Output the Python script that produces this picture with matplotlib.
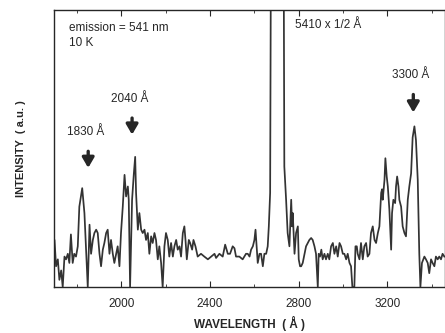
import matplotlib
matplotlib.use('Agg')
import matplotlib.pyplot as plt
from matplotlib.ticker import MultipleLocator

# excitation spectrum (wavelength in A, intensity in a.u.)
wl_left = [1695, 1698, 1705, 1713, 1720, 1728, 1735, 1743, 1750, 1758, 1765, 1772, 1780, 1787,
           1795, 1803, 1810, 1823, 1833, 1841, 1848, 1856, 1863, 1871, 1878, 1886, 1893, 1901,
           1908, 1916, 1923, 1931, 1938, 1946, 1953, 1961, 1968, 1976, 1983, 1991, 1998, 2006,
           2014, 2021, 2029, 2033, 2039, 2048, 2056, 2062, 2066, 2074, 2081, 2089, 2096, 2104,
           2111, 2119, 2126, 2134, 2141, 2149, 2156, 2164, 2171, 2179, 2186, 2194, 2201, 2209,
           2216, 2224, 2232, 2239, 2247, 2254, 2262, 2269, 2277, 2284, 2289, 2295, 2304, 2310,
           2319, 2325, 2334, 2344, 2359, 2374, 2390, 2405, 2420, 2427, 2442, 2457, 2468, 2480,
           2490, 2502, 2510, 2517, 2532, 2547, 2562, 2570, 2578, 2585, 2593, 2600, 2605, 2611,
           2615, 2623, 2630, 2638, 2645, 2653, 2660, 2665, 2671]
int_left = [17, 17, 7.5, 10, 2.6, 6, 0, 11, 10, 12, 8.7, 19, 8.7, 12,
            11, 14.7, 29, 35.7, 26.7, 12, 0, 22.5, 12, 17, 19.5, 20.7, 19.5, 12,
            7.5, 13.5, 15.9, 19.5, 20.7, 12, 17, 12, 8.7, 12, 14.7, 7.5, 19.5, 29,
            40.5, 32.7, 36.3, 31.5, 0, 31.5, 41, 47, 34, 20.7, 26.7, 20.7, 19.5, 20.7,
            17, 19.5, 12, 18.3, 15.9, 19.5, 17, 10, 14.7, 8.7, 0, 14.7, 19.5, 17,
            11, 15.9, 11, 14.7, 17, 13.5, 14.7, 11, 19.5, 21.9, 17, 10, 17, 15.9,
            13.5, 17, 14.7, 11, 12, 11, 10, 11, 12, 10.5, 12, 11, 15.3, 12,
            12, 14.7, 14, 11, 11, 10, 12, 12, 11, 13.5, 14.7, 17, 20.7, 13.5,
            8.7, 12, 12, 7.5, 12, 12, 14.7, 21.9, 34]

# 5410/2 A line, far off scale
wl_peak = [2676, 2703, 2729]
int_peak = [160, 220, 160]

wl_right = [2731, 2735, 2743, 2750, 2758, 2766, 2770, 2773, 2781, 2788, 2796, 2800, 2806, 2811,
            2818, 2826, 2833, 2841, 2848, 2856, 2863, 2871, 2878, 2886, 2890, 2896, 2902, 2908,
            2916, 2923, 2931, 2938, 2946, 2954, 2961, 2969, 2976, 2984, 2991, 2999, 3006, 3014,
            3021, 3029, 3036, 3042, 3051, 3056, 3062, 3066, 3074, 3081, 3089, 3096, 3104, 3111,
            3119, 3126, 3134, 3142, 3149, 3157, 3164, 3172, 3176, 3179, 3187, 3191, 3197, 3202,
            3209, 3217, 3221, 3227, 3235, 3239, 3244, 3250, 3254, 3262, 3269, 3277, 3284, 3292,
            3299, 3307, 3314, 3322, 3329, 3337, 3344, 3349, 3356, 3367, 3374, 3382, 3389, 3397,
            3404, 3412, 3419, 3427, 3434, 3442, 3449, 3457]
int_right = [150, 43.5, 31.5, 19.5, 14.7, 31.5, 21.9, 26.7, 12, 19.5, 21.9, 10, 7.5, 7.5,
             8.7, 12, 14.7, 15.9, 17, 17.7, 17, 14.7, 12, 0, 12, 11, 13.5, 10,
             12, 10, 12, 10, 14.7, 15.9, 12, 14.7, 11, 15.9, 14.7, 12, 12, 10,
             12, 8.7, 7.5, 0, 0, 14.7, 14.7, 12, 10, 15.9, 10, 14.7, 15.9, 11,
             12, 19.5, 21.9, 17, 15.9, 19.5, 21.9, 34, 35.3, 31.5, 38.7, 46.5, 39.9, 36.3,
             27.9, 13.5, 26.7, 31.5, 30.3, 36.3, 39.9, 36.3, 31.5, 29, 21.9, 19.5, 18.3, 31.5,
             36.3, 41, 54, 58, 53, 38.7, 12, 0, 8.7, 11, 10, 8.7, 5, 10,
             8.7, 7.5, 11, 10, 11, 10, 12, 11]

wl = wl_left + wl_peak + wl_right
inten = int_left + int_peak + int_right

# arrow labels: text, arrow x, arrow tail y, arrow head y
marks = [('1830 Å', 1850, 50, 42), ('2040 Å', 2048, 62, 54), ('3300 Å', 3317, 70.5, 62)]

plt.rcParams['font.family'] = ['Liberation Sans', 'DejaVu Sans']
ink = '#262626'

fig = plt.figure(figsize=(4.45, 3.33), dpi=100)
ax = fig.add_axes([0.121, 0.138, 0.879, 0.832])

ax.plot(wl, inten, color='#333333', lw=1.25)
ax.set_xlim(1695, 3460)
ax.set_ylim(0, 100)

ax.xaxis.set_major_locator(MultipleLocator(400))
ax.xaxis.set_minor_locator(MultipleLocator(200))
ax.tick_params(axis='x', which='both', direction='in', top=True, labelsize=8.5,
               colors=ink, pad=8)
ax.tick_params(axis='x', which='major', length=4)
ax.tick_params(axis='x', which='minor', length=2.5)
ax.set_yticks([])
for s in ax.spines.values():
    s.set_color(ink)
    s.set_linewidth(1.0)

ax.set_xlabel('WAVELENGTH  ( Å )', fontsize=8.5, fontweight='bold', color=ink, labelpad=4)
ax.set_ylabel('INTENSITY  ( a.u. )', fontsize=8, fontweight='bold', color=ink, labelpad=20)

ax.text(1765, 93.4, 'emission = 541 nm', fontsize=8.5, color=ink, va='center')
ax.text(1765, 88, '10 K', fontsize=8.5, color=ink, va='center')
ax.text(2781, 94.6, '5410 x 1/2 Å', fontsize=8.5, color=ink, va='center')

for label, x, y0, y1 in marks:
    ax.annotate('', xy=(x, y1), xytext=(x, y0),
                arrowprops=dict(arrowstyle='-|>,head_width=0.35,head_length=0.6',
                                color=ink, lw=2.4))
    ax.text(x - 12, y0 + 6, label, fontsize=8.5, color=ink, ha='center', va='center')

fig.savefig('out.png', dpi=100)
